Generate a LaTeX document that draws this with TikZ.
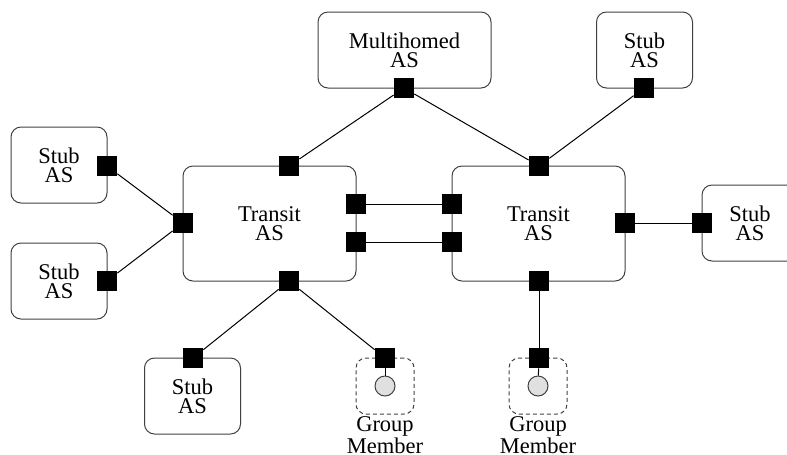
\documentclass[tikz,border=0pt]{standalone}
\usepackage{fontspec}
\setmainfont{Liberation Serif}
\usetikzlibrary{positioning}

\begin{document}
\begin{tikzpicture}[x=0.6pt,y=-0.6pt,
  label/.style={align=center,font=\fontsize{13.5}{11.2}\selectfont,inner sep=0pt},
  asbox/.style={label,draw=black!75,rounded corners=6pt,line width=0.6pt},
  stubbox/.style={asbox,minimum width=57.6pt,minimum height=45.6pt},
  transitbox/.style={asbox,minimum width=103.8pt,minimum height=69pt},
  memberbox/.style={draw=black!75,dash pattern=on 2.4pt off 1.8pt,rounded corners=6pt,
    line width=0.6pt,minimum width=34.8pt,minimum height=33.6pt},
  port/.style={fill=black,minimum size=12pt,inner sep=0pt},
  host/.style={circle,draw=black!75,fill=black!12,minimum size=12pt,inner sep=0pt,line width=0.6pt},
  link/.style={line width=0.6pt}]

  \useasboundingbox (0,0) rectangle (787,454);

  \def\portup{166}   % top ports of transit ASes
  \def\portdown{281} % bottom ports of transit ASes
  \def\leaf{358}     % ports of the lower row

  % the autonomous systems
  \node[transitbox] (tleft) at (269.5,223.5) {Transit\\AS};
  \node[transitbox] (tright) at (538.5,223.5) {Transit\\AS};
  \node[asbox,minimum width=103.8pt,minimum height=45.6pt] (multi) at (404.5,50) {Multihomed\\AS};
  \node[stubbox] (stubtr) at (644.5,50) {Stub\\AS};
  \node[stubbox] (stubla) at (59,165) {Stub\\AS};
  \node[stubbox] (stublb) at (59,281) {Stub\\AS};
  \node[stubbox] (stubbot) at (192.5,396) {Stub\\AS};
  \node[stubbox] (stubr) at (750,223) {Stub\\AS};

  % group members
  \node[memberbox] (gmleft) at (385,386) {};
  \node[memberbox] (gmright) at (538,386) {};
  \node[label,below=1pt of gmleft] (gtleft) {Group\\Member};
  \node[label,below=1pt of gmright] (gtright) {Group\\Member};
  \node[host] (hleft) at (385,386) {};
  \node[host] (hright) at (538,386) {};

  % ports
  \node[port] (pla) at (107,166) {};
  \node[port] (plb) at (107,281) {};
  \node[port] (ptlw) at (183,223) {};
  \node[port] (ptln) at (289,\portup) {};
  \node[port] (ptlea) at (356,204) {};
  \node[port] (ptleb) at (356,242) {};
  \node[port] (ptls) at (289,\portdown) {};
  \node[port] (ptrwa) at (452,204) {};
  \node[port] (ptrwb) at (452,242) {};
  \node[port] (ptrn) at (539,\portup) {};
  \node[port] (ptrs) at (539,\portdown) {};
  \node[port] (ptre) at (625,223) {};
  \node[port] (pr) at (702,223) {};
  \node[port] (pmulti) at (404,88) {};
  \node[port] (ptr) at (644,88) {};
  \node[port] (pbot) at (193,\leaf) {};
  \node[port] (pgl) at (385,\leaf) {};
  \node[port] (pgr) at (539,\leaf) {};

  % links
  \draw[link] (pla) -- (ptlw);
  \draw[link] (plb) -- (ptlw);
  \draw[link] (pmulti) -- (ptln);
  \draw[link] (pmulti) -- (ptrn);
  \draw[link] (ptr) -- (ptrn);
  \draw[link] (ptlea) -- (ptrwa);
  \draw[link] (ptleb) -- (ptrwb);
  \draw[link] (ptre) -- (pr);
  \draw[link] (ptls) -- (pbot);
  \draw[link] (ptls) -- (pgl);
  \draw[link] (ptrs) -- (pgr);
  \draw[link] (pgl) -- (hleft);
  \draw[link] (pgr) -- (hright);

\end{tikzpicture}
\end{document}
